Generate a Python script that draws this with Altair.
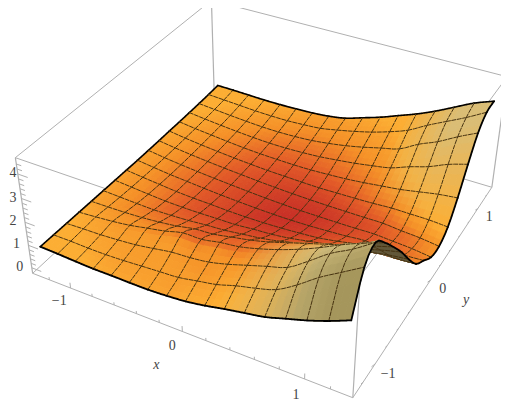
import numpy as np
import pandas as pd
import altair as alt

alt.data_transformers.disable_max_rows()

# Surface heights: one row per x node, one column per y node
Z_TABLE = [
 [.85,.84,.83,.82,.81,.80,.79,.78,.77,.77,.77,.78,.78,.79,.80,.82,.85],
 [.82,.84,.86,.88,.82,.77,.73,.70,.68,.67,.67,.68,.69,.71,.74,.78,.84],
 [.78,.82,.88,.95,.84,.74,.67,.63,.60,.59,.59,.60,.62,.64,.68,.74,.82],
 [.75,.82,.93,1.05,.88,.72,.62,.56,.54,.52,.52,.53,.55,.58,.63,.70,.80],
 [.75,.85,1.0,1.2,.95,.74,.60,.52,.48,.46,.46,.47,.49,.53,.59,.68,.80],
 [.74,.90,1.12,1.35,1.05,.78,.60,.50,.43,.41,.41,.42,.45,.50,.58,.68,.82],
 [.74,.95,1.25,1.55,1.2,.85,.62,.47,.39,.36,.36,.38,.43,.50,.60,.72,.85],
 [.78,1.0,1.3,1.55,1.25,.90,.63,.46,.36,.32,.32,.36,.42,.53,.65,.78,.92],
 [.85,1.15,1.4,1.7,1.4,1.0,.70,.47,.34,.29,.29,.34,.43,.58,.75,.93,1.05],
 [.98,1.3,1.6,1.8,1.55,1.1,.75,.50,.34,.27,.27,.33,.47,.67,.88,1.1,1.3],
 [1.15,1.55,1.85,2.0,1.75,1.25,.85,.55,.36,.27,.26,.35,.52,.77,1.05,1.3,1.55],
 [1.3,1.75,2.1,2.25,2.0,1.45,1.0,.62,.40,.27,.26,.37,.60,.90,1.25,1.55,1.85],
 [1.45,2.0,2.35,2.55,2.25,1.65,1.15,.75,.45,.28,.26,.40,.70,1.05,1.45,1.85,2.15],
 [1.7,2.5,2.9,2.9,2.5,1.9,1.35,.90,.52,.30,.27,.45,.80,1.35,1.9,2.3,2.5],
 [1.95,3.1,3.5,3.3,2.75,2.05,1.4,.90,.45,.25,.20,.45,.95,1.6,2.25,2.7,2.9],
 [2.25,3.6,3.95,3.65,3.0,2.3,1.55,.85,.45,.20,.15,.45,1.1,1.95,2.7,3.1,3.3],
 [2.6,4.1,4.5,3.95,3.25,2.5,1.65,.90,.50,.10,.05,.40,1.2,2.2,3.1,3.55,3.6],
]
X_RANGE = [-1.3, 1.3]
Y_RANGE = [-1.3, 1.3]
BOX_X = [-1.36, 1.37]
BOX_Y = [-1.36, 1.33]
BOX_Z = [-0.25, 4.65]
X_TICKS = [-1, 0, 1]
Y_TICKS = [-1, 0, 1]
Z_TICKS = [0, 1, 2, 3, 4]

# Camera: where the eight corners of the bounding box fall in the picture
CAMERA = [
 (0,0,0,33,273),(0,0,1,15,158),(1,0,0,353,398),(1,0,1,360,276),
 (1,1,0,492,187),(1,1,1,507,77),(0,1,0,214,105),(0,1,1,212,0),
]
A, b = [], []
for i, j, k, u, v in CAMERA:
    w = [BOX_X[i], BOX_Y[j], BOX_Z[k], 1]
    A.append(w + [0,0,0,0] + [-u*c for c in w[:3]]); b.append(u)
    A.append([0,0,0,0] + w + [-v*c for c in w[:3]]); b.append(v)
sol = np.linalg.lstsq(np.array(A, float), np.array(b, float), rcond=None)[0]
P = np.append(sol, 1).reshape(3, 4)

def project(x, y, z):
    q = P @ np.array([x, y, z, 1.0])
    return q[0]/q[2], q[1]/q[2]

SUB = 3
def smooth_axis(T):
    # rounded (Catmull-Rom) drawing of the table along its first axis
    n = T.shape[0]
    E = np.vstack([2*T[0]-T[1], T, 2*T[-1]-T[-2]])
    out = []
    for c in range(n-1):
        p0, p1, p2, p3 = E[c], E[c+1], E[c+2], E[c+3]
        for s in range(SUB):
            f = s/SUB
            out.append(.5*(2*p1 + (p2-p0)*f + (2*p0-5*p1+4*p2-p3)*f*f + (3*p1-p0-3*p2+p3)*f**3))
    out.append(T[-1])
    return np.array(out)

Z0 = np.array(Z_TABLE)
Z = smooth_axis(smooth_axis(Z0).T).T
M = Z.shape[0] - 1
N = M // SUB
xs = np.linspace(*X_RANGE, M+1)
ys = np.linspace(*Y_RANGE, M+1)
GX, GY = np.gradient(Z, xs, ys)

RAMP_P = [0, .5, 1.0, 1.5]
RAMP_C = np.array([(200,48,38),(226,90,40),(245,145,40),(252,174,52)], float)
TAN = np.array([(212,192,128),(165,150,92)], float)
DARK = np.array([98,88,58], float)

def shade(u, t, gx, gy):
    d = np.hypot((u-.55)/.5, (t-.5)/.5)
    p = d**1.5 + .2*np.hypot(gx, max(gy, 0))
    c = np.array([np.interp(p, RAMP_P, RAMP_C[:, m]) for m in range(3)])
    back = np.clip((u-.72)/.18, 0, 1)*np.clip((t-.68)/.22, 0, 1)*.85
    front = np.clip((u-.6)/.25, 0, 1)*np.clip((.28-t)/.1, 0, 1)
    w = max(back, front)
    t2 = np.clip((.2-t)/.15, 0, 1)*np.clip((u-.65)/.3, 0, 1)
    tan = TAN[0]*(1-t2) + TAN[1]*t2
    return c*(1-w) + tan*w

def hexc(c):
    return '#%02x%02x%02x' % tuple(int(round(v)) for v in c)

rows = []
gid = 0
def poly(pts, fill, stroke, sw, dash):
    global gid
    gid += 1
    for k, (a, b_) in enumerate(pts):
        rows.append((gid, k, a, b_, fill, stroke, sw, dash))

S = [[project(xs[i], ys[j], Z[i,j]) for j in range(M+1)] for i in range(M+1)]
EDGE = '#000000'
MESH = '#463210'
for ci in range(N):
    for cj in range(N-1, -1, -1):
        for i in range(ci*SUB, (ci+1)*SUB):
            for j in range((cj+1)*SUB-1, cj*SUB-1, -1):
                pts = [S[i][j], S[i+1][j], S[i+1][j+1], S[i][j+1], S[i][j]]
                area = sum(pts[n][0]*pts[n+1][1]-pts[n+1][0]*pts[n][1] for n in range(4))
                gx = (GX[i,j]+GX[i+1,j]+GX[i,j+1]+GX[i+1,j+1])/4
                gy = (GY[i,j]+GY[i+1,j]+GY[i,j+1]+GY[i+1,j+1])/4
                col = shade((i+.5)/M, (j+.5)/M, gx, gy)
                if area > 0:
                    col = DARK
                c = hexc(col)
                poly(pts, c, c, .7, 'solid')
        i0, i1, j0, j1 = ci*SUB, (ci+1)*SUB, cj*SUB, (cj+1)*SUB
        side_low = [S[i0][j] for j in range(j0, j1+1)]
        side_far = [S[i][j1] for i in range(i0, i1+1)]
        poly(side_low, 'transparent', EDGE if ci == 0 else MESH, 1.6 if ci == 0 else 1, 'solid' if ci == 0 else 'dash')
        poly(side_far, 'transparent', EDGE if cj == N-1 else MESH, 1.6 if cj == N-1 else 1, 'solid' if cj == N-1 else 'dash')
        if cj == 0:
            poly([S[i][j0] for i in range(i0, i1+1)], 'transparent', EDGE, 1.8, 'solid')
        if ci == N-1:
            poly([S[i1][j] for j in range(j0, j1+1)], 'transparent', EDGE, 1.8, 'solid')

surf = pd.DataFrame(rows, columns=['id','k','px','py','fill','stroke','sw','dash'])

# Box and ticks
box = []
bid = 0
def seg(p, q, sw=1.0):
    global bid
    bid += 1
    for k, pt in enumerate((p, q)):
        box.append((bid, k, *project(*pt), sw))
bx, by, bz = BOX_X, BOX_Y, BOX_Z
for j in (0,1):
    for k in (0,1):
        seg((bx[0],by[j],bz[k]), (bx[1],by[j],bz[k]))
for i in (0,1):
    for k in (0,1):
        seg((bx[i],by[0],bz[k]), (bx[i],by[1],bz[k]))
for i in (0,1):
    for j in (0,1):
        seg((bx[i],by[j],bz[0]), (bx[i],by[j],bz[1]), 1.2)
for n in range(-6, 7):
    v = n*.2
    L = .16 if n % 5 == 0 else .08
    seg((v,by[0],bz[0]), (v,by[0],bz[0]+L*1.5))
    seg((bx[1],v,bz[0]), (bx[1],v-L*.4,bz[0]+L*.8))
for n in range(0, 23):
    v = n*.2
    L = .09 if n % 5 == 0 else .045
    seg((bx[0],by[0],v), (bx[0]+L,by[0],v))
box = pd.DataFrame(box, columns=['id','k','px','py','sw'])

# Labels
xlab = [(*project(v, by[0]-.2, bz[0]), '−1' if v == -1 else str(v)) for v in X_TICKS]
ylab = [(*project(bx[1]+.10, v, bz[0]), '−1' if v == -1 else str(v)) for v in Y_TICKS]
zl = []
for v in Z_TICKS:
    a, b_ = project(bx[0], by[0], v)
    zl.append((max(a-12, 13), b_-1, str(v)))
ital = [(*project(.02, by[0]-.37, bz[0]), 'x'), (*project(bx[1]+.32, -.08, bz[0]), 'y')]
xlab = pd.DataFrame(xlab, columns=['px','py','t'])
ylab = pd.DataFrame(ylab, columns=['px','py','t'])
zl = pd.DataFrame(zl, columns=['px','py','t'])
ital = pd.DataFrame(ital, columns=['px','py','t'])

X = alt.X('px:Q', scale=alt.Scale(domain=[8,501], nice=False, zero=False), axis=None)
Y = alt.Y('py:Q', scale=alt.Scale(domain=[401,8], nice=False, zero=False), axis=None)

box_l = alt.Chart(box).mark_line(color='#b0b0b0').encode(
    x=X, y=Y, detail='id:N', order='k:Q',
    strokeWidth=alt.StrokeWidth('sw:Q', scale=None))
surf_l = alt.Chart(surf).mark_line(strokeCap='round', strokeJoin='round').encode(
    x=X, y=Y, detail='id:Q', order='k:Q',
    fill=alt.Fill('fill:N', scale=None),
    stroke=alt.Stroke('stroke:N', scale=None),
    strokeWidth=alt.StrokeWidth('sw:Q', scale=None),
    strokeDash=alt.StrokeDash('dash:N', scale=alt.Scale(domain=['solid','dash'], range=[[1,0],[4,1.5]]), legend=None))
text_x = alt.Chart(xlab).mark_text(font='Liberation Serif', fontSize=14, color='#444444', dx=5, dy=-3).encode(
    x=X, y=Y, text='t:N')
text_y = alt.Chart(ylab).mark_text(font='Liberation Serif', fontSize=14, color='#444444', dy=5).encode(
    x=X, y=Y, text='t:N')
text_z = alt.Chart(zl).mark_text(font='Liberation Serif', fontSize=14, color='#444444').encode(
    x=X, y=Y, text='t:N')
text_i = alt.Chart(ital).mark_text(font='Liberation Serif', fontSize=14, fontStyle='italic', color='#444444').encode(
    x=X, y=Y, text='t:N')

chart = alt.layer(box_l, surf_l, text_x, text_y, text_z, text_i).properties(
    width=493, height=393, padding=0, autosize=alt.AutoSizeParams(type='none')
).configure_view(strokeWidth=0)
chart.save("out.html", embed_options={"renderer": "svg", "actions": False})
